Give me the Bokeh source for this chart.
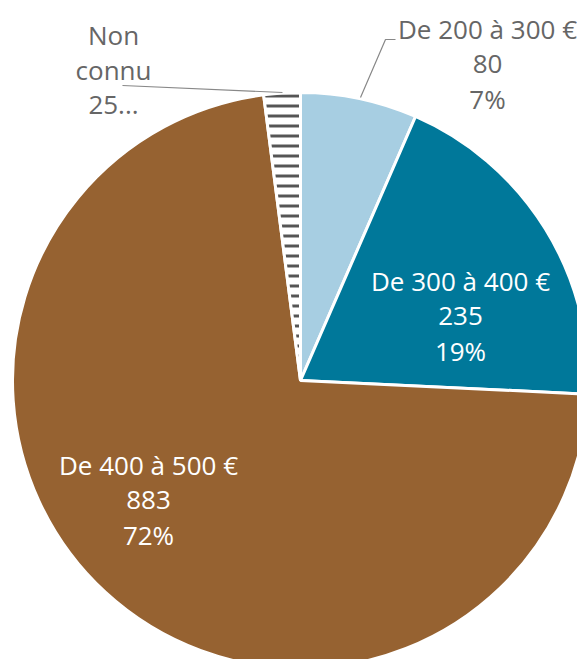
from math import pi
from bokeh.plotting import figure
from bokeh.models import ColumnDataSource
from bokeh.core.properties import value
from bokeh.embed import file_html
from bokeh.resources import INLINE

# ---- data ----
categories = ["De 200 à 300 €", "De 300 à 400 €", "De 400 à 500 €", "Non connu"]
counts = [80, 235, 883, 25]
colors = ["#a7cee2", "#00789a", "#966231", "#ffffff"]
hatches = [" ", " ", " ", "horizontal_line"]

total = sum(counts)
starts, ends = [], []
cum = 0
for c in counts:
    starts.append(pi / 2 - 2 * pi * cum / total)
    cum += c
    ends.append(pi / 2 - 2 * pi * cum / total)

src = ColumnDataSource(dict(cat=categories, val=counts, color=colors,
                            hatch=hatches, start=starts, end=ends))

W, H = 577, 659
CX, CY = 300, 380  # pie centre in frame pixels from top-left
p = figure(width=W, height=H, output_backend="svg", toolbar_location=None,
           x_range=(-CX, W - CX), y_range=(-(H - CY), CY),
           min_border=0, outline_line_color=None)
p.axis.visible = False
p.grid.visible = False

R = 288
p.wedge(x=0, y=0, radius=R, start_angle="start", end_angle="end",
        direction="clock", fill_color="color", line_color="white", line_width=3,
        hatch_pattern="hatch", hatch_color="#555555", hatch_weight=3,
        hatch_scale=10, source=src)

# leader lines
p.line(x=[95, 85, 60], y=[341, 341, 283], line_color="#888888", line_width=1.2)
p.line(x=[-178, -18], y=[295, 288], line_color="#888888", line_width=1.2)

# labels
pct = [f"{round(100 * c / total)}%" for c in counts]
label_lines = [
    [categories[0], str(counts[0]), pct[0]],
    [categories[1], str(counts[1]), pct[1]],
    [categories[2], str(counts[2]), pct[2]],
    ["Non", "connu", f"{counts[3]}..."],
]
label_pos = [(187, 352), (160, 100), (-152, -84), (-187, 346)]
label_col = ["#666666", "#ffffff", "#ffffff", "#666666"]
step = 35
xs, ys, ts, cs = [], [], [], []
for lines, (lx, ly), col in zip(label_lines, label_pos, label_col):
    for i, t in enumerate(lines):
        xs.append(lx)
        ys.append(ly - i * step)
        ts.append(t)
        cs.append(col)
p.text(x=xs, y=ys, text=ts, text_color=cs, text_align="center",
       text_baseline="middle", text_font=value("Open Sans"),
       text_font_size="26px")

open("out.html", "w").write(file_html(p, INLINE))
